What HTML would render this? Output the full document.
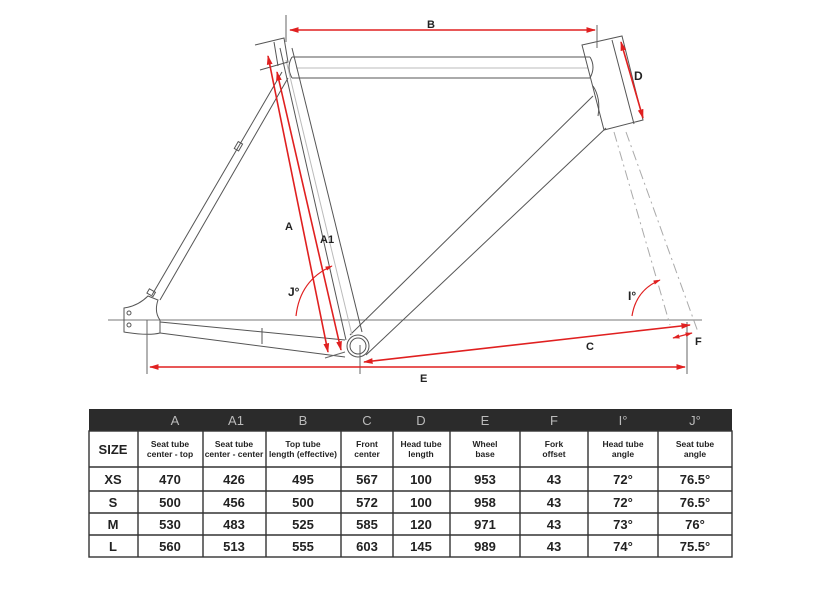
<!DOCTYPE html>
<html><head><meta charset="utf-8"><style>
html,body{margin:0;padding:0;background:#fff;width:822px;height:600px;overflow:hidden}
svg{display:block}
text{font-family:"Liberation Sans",sans-serif}
</style></head><body>
<svg width="822" height="600" viewBox="0 0 822 600" xmlns="http://www.w3.org/2000/svg">
<defs>
<marker id="ar" viewBox="0 0 10 10" refX="9" refY="5" markerWidth="6" markerHeight="6" orient="auto-start-reverse"><path d="M0,2 L10,5 L0,8z" fill="#e02020"/></marker>
</defs>
<g fill="none" stroke="#555" stroke-width="1">
<!-- ground line -->
<line x1="108" y1="320" x2="702" y2="320" stroke="#777"/>
<!-- top tube -->
<line x1="292" y1="57" x2="590" y2="57"/>
<line x1="292" y1="78" x2="590" y2="78"/>
<line x1="296" y1="68" x2="588" y2="68" stroke="#bbb"/>
<path d="M292,57 q-6,10 0,21 M590,57 q6,10 0,21"/>
<!-- head tube -->
<path d="M582,45 L622,36 L643,120 L604,130 Z"/>
<line x1="612" y1="40" x2="634" y2="124"/>
<!-- down tube -->
<line x1="593" y1="96" x2="350" y2="335"/>
<line x1="606" y1="128" x2="366" y2="355"/>
<path d="M593,86 q8,12 5,30"/>
<!-- seat tube -->
<line x1="280" y1="48" x2="346" y2="340"/>
<line x1="292" y1="48" x2="362" y2="332"/>
<line x1="286" y1="60" x2="352" y2="335" stroke="#bbb"/>
<path d="M255,45 L284,38 L288,62 L260,70"/>
<line x1="274" y1="42" x2="278" y2="66"/>
<!-- seat stay -->
<line x1="282" y1="72" x2="152" y2="295"/>
<line x1="288" y1="78" x2="160" y2="300"/>
<rect x="236" y="142" width="5" height="8" transform="rotate(30 238 146)"/>
<!-- chain stay -->
<line x1="160" y1="322" x2="345" y2="340"/>
<line x1="160" y1="333" x2="345" y2="357"/>
<line x1="262" y1="328" x2="262" y2="344"/>
<!-- dropout -->
<path d="M124,308 Q138,306 148,296 L158,300 Q154,312 160,320 L160,333 Q148,336 124,332 Z"/>
<circle cx="129" cy="313" r="2"/><circle cx="129" cy="325" r="2"/>
<rect x="148" y="290" width="7" height="5" transform="rotate(30 151 292)"/>
<!-- BB -->
<circle cx="358" cy="346" r="11"/>
<circle cx="358" cy="346" r="8"/>
<!-- fork dashed -->
<line x1="614" y1="132" x2="670" y2="325" stroke="#aaa" stroke-dasharray="10,4,2,4"/>
<line x1="626" y1="132" x2="698" y2="332" stroke="#aaa" stroke-dasharray="10,4,2,4"/>
<!-- dimension ticks -->
<line x1="286" y1="15" x2="286" y2="42" stroke="#666"/>
<line x1="597" y1="25" x2="597" y2="48" stroke="#666"/>
<line x1="147" y1="320" x2="147" y2="374" stroke="#666"/>
<line x1="687" y1="322" x2="687" y2="374" stroke="#666"/>
<line x1="360" y1="345" x2="360" y2="374" stroke="#666"/>
<line x1="325" y1="358" x2="345" y2="352" stroke="#666"/>
</g>
<g stroke="#e02020" stroke-width="1.6" fill="none">
<line x1="290" y1="30" x2="595" y2="30" marker-start="url(#ar)" marker-end="url(#ar)"/>
<line x1="621" y1="42" x2="643" y2="118" marker-start="url(#ar)" marker-end="url(#ar)"/>
<line x1="268" y1="56" x2="328" y2="352" marker-start="url(#ar)" marker-end="url(#ar)"/>
<line x1="277" y1="72" x2="341" y2="350" marker-start="url(#ar)" marker-end="url(#ar)"/>
<line x1="364" y1="362" x2="690" y2="325" marker-start="url(#ar)" marker-end="url(#ar)"/>
<line x1="150" y1="367" x2="685" y2="367" marker-start="url(#ar)" marker-end="url(#ar)"/>
<line x1="673" y1="338" x2="692" y2="333" marker-start="url(#ar)" marker-end="url(#ar)" stroke-width="1.2"/>
<path d="M296,316 Q300,280 332,266" marker-end="url(#ar)" stroke-width="1.2"/>
<path d="M632,316 Q636,290 660,280" marker-end="url(#ar)" stroke-width="1.2"/>
</g>
<g font-size="11" font-weight="bold" fill="#222">
<text x="427" y="28">B</text>
<text x="634" y="80" font-size="12">D</text>
<text x="285" y="230">A</text>
<text x="320" y="243">A1</text>
<text x="288" y="296" font-size="12">J°</text>
<text x="628" y="300" font-size="12">I°</text>
<text x="586" y="350">C</text>
<text x="695" y="345">F</text>
<text x="420" y="382">E</text>
</g>
<!-- table -->
<g>
<rect x="89" y="409" width="643" height="22" fill="#2b2b2b"/>
<g font-size="13" fill="#bbb" text-anchor="middle">
<text x="175" y="425">A</text><text x="236" y="425">A1</text><text x="303" y="425">B</text><text x="367" y="425">C</text><text x="421" y="425">D</text><text x="485" y="425">E</text><text x="554" y="425">F</text><text x="623" y="425">I°</text><text x="695" y="425">J°</text>
</g>
<g stroke="#333" stroke-width="1.4" fill="none">
<rect x="89" y="431" width="643" height="126"/>
<line x1="89" y1="467" x2="732" y2="467"/><line x1="89" y1="491" x2="732" y2="491"/><line x1="89" y1="513" x2="732" y2="513"/><line x1="89" y1="535" x2="732" y2="535"/>
<line x1="138" y1="431" x2="138" y2="557"/><line x1="203" y1="431" x2="203" y2="557"/><line x1="266" y1="431" x2="266" y2="557"/><line x1="341" y1="431" x2="341" y2="557"/><line x1="393" y1="431" x2="393" y2="557"/><line x1="450" y1="431" x2="450" y2="557"/><line x1="520" y1="431" x2="520" y2="557"/><line x1="588" y1="431" x2="588" y2="557"/><line x1="658" y1="431" x2="658" y2="557"/>
</g>
<g font-size="8.5" fill="#222" text-anchor="middle" font-weight="bold">
<text x="170" y="447">Seat tube</text><text x="170" y="457">center - top</text>
<text x="234" y="447">Seat tube</text><text x="234" y="457">center - center</text>
<text x="303" y="447">Top tube</text><text x="303" y="457">length (effective)</text>
<text x="367" y="447">Front</text><text x="367" y="457">center</text>
<text x="421" y="447">Head tube</text><text x="421" y="457">length</text>
<text x="485" y="447">Wheel</text><text x="485" y="457">base</text>
<text x="554" y="447">Fork</text><text x="554" y="457">offset</text>
<text x="623" y="447">Head tube</text><text x="623" y="457">angle</text>
<text x="695" y="447">Seat tube</text><text x="695" y="457">angle</text>
</g>
<g font-size="13" font-weight="bold" fill="#222" text-anchor="middle">
<text x="113" y="454">SIZE</text>
<text x="113" y="484">XS</text><text x="170" y="484">470</text><text x="234" y="484">426</text><text x="303" y="484">495</text><text x="367" y="484">567</text><text x="421" y="484">100</text><text x="485" y="484">953</text><text x="554" y="484">43</text><text x="623" y="484">72°</text><text x="695" y="484">76.5°</text>
<text x="113" y="507">S</text><text x="170" y="507">500</text><text x="234" y="507">456</text><text x="303" y="507">500</text><text x="367" y="507">572</text><text x="421" y="507">100</text><text x="485" y="507">958</text><text x="554" y="507">43</text><text x="623" y="507">72°</text><text x="695" y="507">76.5°</text>
<text x="113" y="529">M</text><text x="170" y="529">530</text><text x="234" y="529">483</text><text x="303" y="529">525</text><text x="367" y="529">585</text><text x="421" y="529">120</text><text x="485" y="529">971</text><text x="554" y="529">43</text><text x="623" y="529">73°</text><text x="695" y="529">76°</text>
<text x="113" y="551">L</text><text x="170" y="551">560</text><text x="234" y="551">513</text><text x="303" y="551">555</text><text x="367" y="551">603</text><text x="421" y="551">145</text><text x="485" y="551">989</text><text x="554" y="551">43</text><text x="623" y="551">74°</text><text x="695" y="551">75.5°</text>
</g>
</g>
</svg>
</body></html>
